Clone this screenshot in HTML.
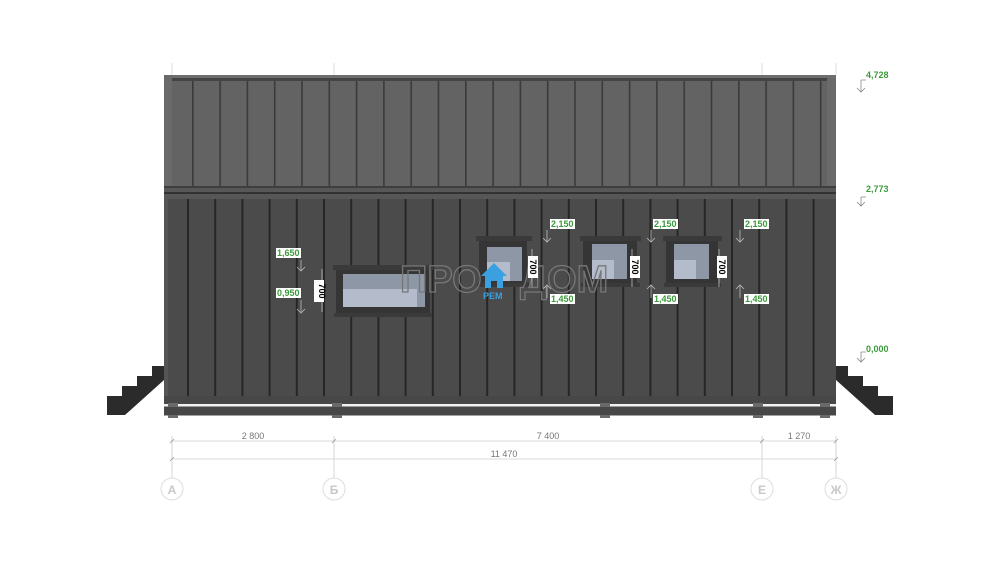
<!DOCTYPE html>
<html><head><meta charset="utf-8"><style>
html,body{margin:0;padding:0;background:#fff;width:1000px;height:563px;overflow:hidden}
svg{display:block}
text{font-family:"Liberation Sans",sans-serif;font-weight:bold}
</style></head><body>
<svg width="1000" height="563" viewBox="0 0 1000 563" xmlns="http://www.w3.org/2000/svg">
<defs>
<pattern id="rs" x="192" y="0" width="27.3" height="563" patternUnits="userSpaceOnUse">
<rect x="0" y="0" width="27.3" height="563" fill="#636363"/>
<rect x="0" y="0" width="1.6" height="563" fill="#3a3a3a"/>
</pattern>
<pattern id="ws" x="187" y="0" width="27.2" height="563" patternUnits="userSpaceOnUse">
<rect x="0" y="0" width="27.2" height="563" fill="#4b4b4b"/>
<rect x="0" y="0" width="2" height="563" fill="#262626"/>
</pattern>
</defs>
<!-- grid lines above roof -->
<line x1="172" y1="63" x2="172" y2="75" stroke="#ddd"/>
<line x1="334" y1="63" x2="334" y2="75" stroke="#ddd"/>
<line x1="762" y1="63" x2="762" y2="75" stroke="#ddd"/>
<line x1="836" y1="63" x2="836" y2="75" stroke="#ddd"/>
<!-- roof -->
<rect x="164" y="75" width="672" height="114" fill="url(#rs)"/>
<rect x="164" y="75" width="672" height="3" fill="#6e6e6e"/>
<rect x="172" y="78" width="656" height="3" fill="#444"/>
<rect x="164" y="75" width="8" height="112" fill="#6a6a6a"/>
<rect x="827" y="78" width="9" height="109" fill="#6a6a6a"/>
<rect x="164" y="186" width="672" height="2" fill="#3e3e3e"/>
<!-- eave band -->
<rect x="164" y="188" width="672" height="11" fill="#575757"/>
<rect x="164" y="192" width="672" height="2" fill="#333"/>
<!-- wall -->
<rect x="164" y="199" width="672" height="197" fill="url(#ws)"/>
<rect x="164" y="199" width="4" height="205" fill="#555"/>
<rect x="164" y="396" width="672" height="8" fill="#474747"/>
<rect x="164" y="404" width="672" height="2.5" fill="#f2f2f2"/>
<rect x="164" y="406.5" width="672" height="9" fill="#474747"/>
<!-- posts -->
<g fill="#6a6a6a">
<rect x="168" y="403" width="10" height="4"/><rect x="168" y="415" width="10" height="3"/>
<rect x="332" y="403" width="10" height="4"/><rect x="332" y="415" width="10" height="3"/>
<rect x="600" y="403" width="10" height="4"/><rect x="600" y="415" width="10" height="3"/>
<rect x="753" y="403" width="10" height="4"/><rect x="753" y="415" width="10" height="3"/>
<rect x="820" y="403" width="10" height="4"/><rect x="820" y="415" width="10" height="3"/>
</g>
<!-- stairs -->
<path d="M164,366 L152,366 L152,376 L137,376 L137,386 L122,386 L122,396 L107,396 L107,415 L125,415 L164,380 Z" fill="#2b2b2b"/>
<path d="M836,366 L848,366 L848,376 L863,376 L863,386 L878,386 L878,396 L893,396 L893,415 L875,415 L836,380 Z" fill="#2b2b2b"/>
<!-- windows -->
<g>
<rect x="333" y="265" width="100" height="5" fill="#3a3a3a"/>
<rect x="336" y="270" width="94" height="44" fill="#353535"/>
<rect x="334" y="313" width="98" height="4" fill="#3a3a3a"/>
<rect x="343" y="274" width="82" height="33" fill="#8e97a6"/>
<rect x="343" y="289" width="74" height="18" fill="#b4bccb"/>
</g>
<g>
<rect x="476" y="236" width="56" height="5" fill="#3a3a3a"/>
<rect x="479" y="241" width="48" height="43" fill="#353535"/>
<rect x="477" y="283" width="52" height="4" fill="#3a3a3a"/>
<rect x="487" y="247" width="35" height="34" fill="#8e97a6"/>
<rect x="487" y="262" width="23" height="19" fill="#b4bccb"/>
</g>
<g>
<rect x="580" y="236" width="61" height="5" fill="#3a3a3a"/>
<rect x="583" y="241" width="54" height="43" fill="#353535"/>
<rect x="581" y="283" width="59" height="4" fill="#3a3a3a"/>
<rect x="592" y="244" width="35" height="35" fill="#8e97a6"/>
<rect x="592" y="260" width="22" height="19" fill="#b4bccb"/>
</g>
<g>
<rect x="663" y="236" width="59" height="5" fill="#3a3a3a"/>
<rect x="666" y="241" width="52" height="43" fill="#353535"/>
<rect x="664" y="283" width="57" height="4" fill="#3a3a3a"/>
<rect x="674" y="244" width="35" height="35" fill="#8e97a6"/>
<rect x="674" y="260" width="22" height="19" fill="#b4bccb"/>
</g>
<!-- watermark -->
<text x="400" y="292" font-size="38" fill="none" stroke="#777" stroke-width="1.3" font-weight="normal">ПРО</text>
<text x="520" y="292" font-size="38" fill="none" stroke="#777" stroke-width="1.3" font-weight="normal">ДОМ</text>
<path d="M494,263 L481,276 L485,276 L485,288 L491,288 L491,281 L497,281 L497,288 L503,288 L503,276 L507,276 Z" fill="#3aa0e0"/>
<text x="483" y="299" font-size="9" fill="#3aa0e0">PEM</text>
<!-- vertical dims 700 -->
<g stroke="#bbb" stroke-width="0.8" fill="none">
<line x1="322" y1="269" x2="322" y2="312"/>
<line x1="532" y1="249" x2="532" y2="287"/>
<line x1="632" y1="249" x2="632" y2="287"/>
<line x1="719" y1="249" x2="719" y2="287"/>
<!-- level leaders -->
<path d="M301,260 L301,270 M297,267 L301,271 L305,267"/>
<path d="M301,300 L301,312 M297,309 L301,313 L305,309"/>
<path d="M547,230 L547,242 M543,238 L547,242 L551,238"/>
<path d="M547,298 L547,285 M543,289 L547,285 L551,289"/>
<path d="M651,230 L651,242 M647,238 L651,242 L655,238"/>
<path d="M651,298 L651,285 M647,289 L651,285 L655,289"/>
<path d="M740,230 L740,242 M736,238 L740,242 L744,238"/>
<path d="M740,298 L740,285 M736,289 L740,285 L744,289"/>
</g>
<g stroke="#888" stroke-width="0.8" fill="none">
<path d="M861,80 L861,92 M857,88 L861,92 L865,88 M861,80 L866,80"/>
<path d="M861,197 L861,206 M857,202 L861,206 L865,202 M861,197 L866,197"/>
<path d="M861,352 L861,362 M857,358 L861,362 L865,358 M861,352 L866,352"/>
</g>
<g font-size="9" text-anchor="middle">
<rect x="314" y="280" width="10" height="22" fill="#fff"/>
<text transform="translate(322,291) rotate(90)" fill="#000" y="3">700</text>
<rect x="528" y="256" width="10" height="22" fill="#fff"/>
<text transform="translate(533,267) rotate(90)" fill="#000" y="3">700</text>
<rect x="630" y="256" width="10" height="22" fill="#fff"/>
<text transform="translate(635,267) rotate(90)" fill="#000" y="3">700</text>
<rect x="717" y="256" width="10" height="22" fill="#fff"/>
<text transform="translate(722,267) rotate(90)" fill="#000" y="3">700</text>
</g>
<g font-size="9" fill="#3c9a3c">
<rect x="276" y="248" width="25" height="10" fill="#fff"/><text x="277" y="256">1,650</text>
<rect x="276" y="288" width="25" height="10" fill="#fff"/><text x="277" y="296">0,950</text>
<rect x="550" y="219" width="25" height="10" fill="#fff"/><text x="551" y="227">2,150</text>
<rect x="550" y="294" width="25" height="10" fill="#fff"/><text x="551" y="302">1,450</text>
<rect x="653" y="219" width="25" height="10" fill="#fff"/><text x="654" y="227">2,150</text>
<rect x="653" y="294" width="25" height="10" fill="#fff"/><text x="654" y="302">1,450</text>
<rect x="744" y="219" width="25" height="10" fill="#fff"/><text x="745" y="227">2,150</text>
<rect x="744" y="294" width="25" height="10" fill="#fff"/><text x="745" y="302">1,450</text>
<text x="866" y="78">4,728</text>
<text x="866" y="192">2,773</text>
<text x="866" y="352">0,000</text>
</g>
<!-- bottom dims -->
<g stroke="#ccc" stroke-width="0.8">
<line x1="172" y1="441" x2="836" y2="441"/>
<line x1="172" y1="459" x2="836" y2="459"/>
<line x1="172" y1="436" x2="172" y2="478"/>
<line x1="334" y1="436" x2="334" y2="478"/>
<line x1="762" y1="436" x2="762" y2="478"/>
<line x1="836" y1="436" x2="836" y2="478"/>
</g>
<g stroke="#999" stroke-width="0.8">
<line x1="170" y1="443" x2="174" y2="439"/><line x1="332" y1="443" x2="336" y2="439"/>
<line x1="760" y1="443" x2="764" y2="439"/><line x1="834" y1="443" x2="838" y2="439"/>
<line x1="170" y1="461" x2="174" y2="457"/><line x1="834" y1="461" x2="838" y2="457"/>
</g>
<g font-size="9" fill="#777" text-anchor="middle" font-weight="normal">
<text x="253" y="439" style="font-weight:normal">2 800</text>
<text x="548" y="439" style="font-weight:normal">7 400</text>
<text x="799" y="439" style="font-weight:normal">1 270</text>
<text x="504" y="457" style="font-weight:normal">11 470</text>
</g>
<g fill="#fff" stroke="#ddd" stroke-width="1">
<circle cx="172" cy="489" r="11"/><circle cx="334" cy="489" r="11"/>
<circle cx="762" cy="489" r="11"/><circle cx="836" cy="489" r="11"/>
</g>
<g font-size="12" fill="#c8c8c8" text-anchor="middle">
<text x="172" y="494">А</text><text x="334" y="494">Б</text>
<text x="762" y="494">Е</text><text x="836" y="494">Ж</text>
</g>
</svg>
</body></html>
